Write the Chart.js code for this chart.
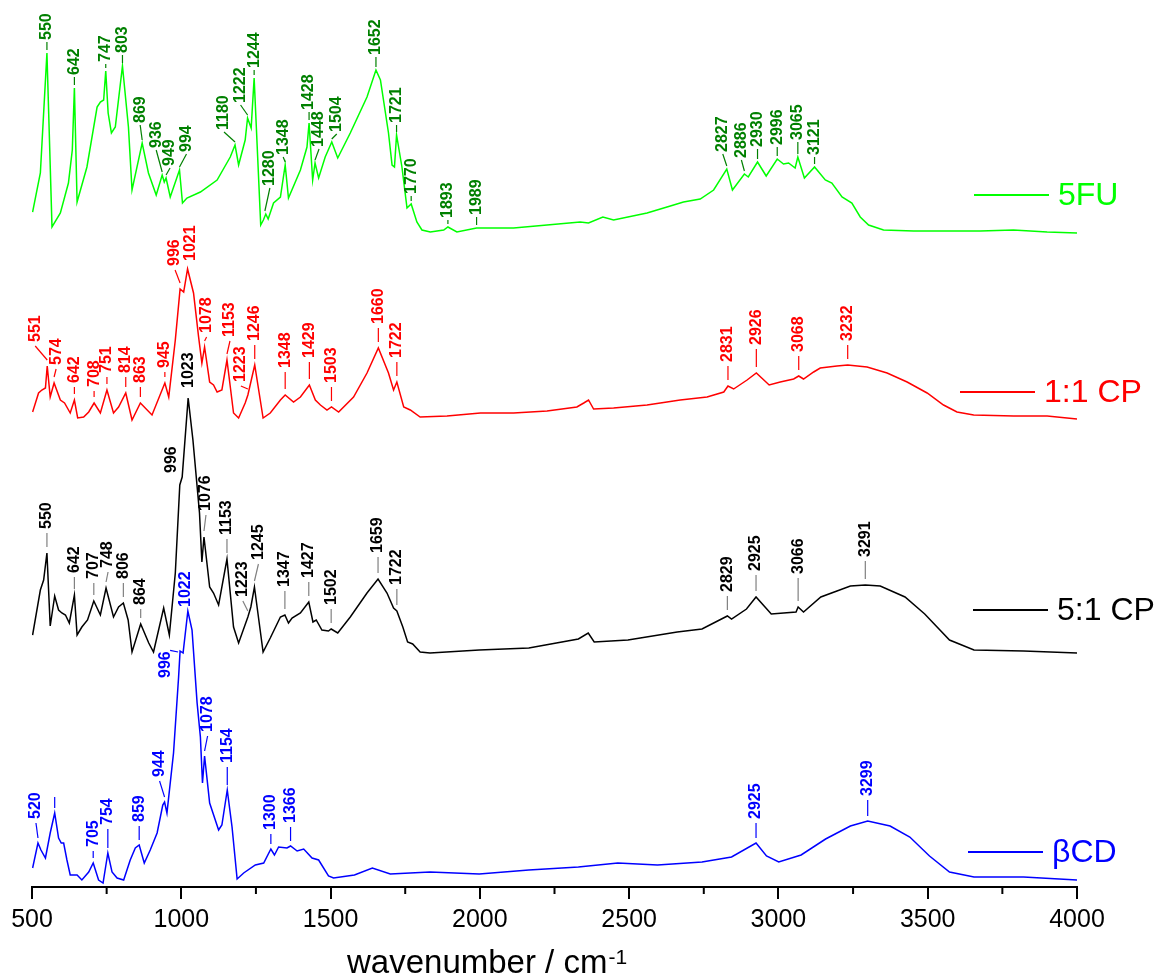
<!DOCTYPE html>
<html>
<head>
<meta charset="utf-8">
<title>Raman spectra</title>
<script src="https://cdn.jsdelivr.net/npm/chart.js@4.4.1/dist/chart.umd.min.js"></script>
<style>
  html, body { margin: 0; padding: 0; background: #fff; }
  #chart { display: block; }
</style>
</head>
<body>
<canvas id="chart" width="1158" height="978" style="width:1158px;height:978px"></canvas>
<script>
// wavenumber (cm-1) / intensity (a.u., already offset)
const wn5FU = [502, 528, 550, 567, 595, 622, 635, 642, 651, 684, 718, 729, 740, 747, 755, 766, 779, 803, 823, 835,
    869, 890, 916, 936, 943, 949, 963, 994, 1004, 1019, 1064, 1120, 1164, 1180, 1192, 1214, 1222, 1234, 1244, 1266,
    1275, 1283, 1291, 1309, 1332, 1348, 1359, 1399, 1421, 1428, 1440, 1448, 1460, 1482, 1504, 1524, 1566, 1622, 1652, 1667,
    1694, 1706, 1714, 1721, 1739, 1756, 1770, 1789, 1806, 1834, 1879, 1893, 1923, 1989, 2113, 2225, 2336, 2364, 2412, 2448,
    2560, 2638, 2682, 2738, 2783, 2827, 2846, 2886, 2899, 2930, 2959, 2996, 3017, 3034, 3056, 3065, 3087, 3121, 3157, 3179,
    3213, 3246, 3274, 3302, 3352, 3453, 3676, 3787, 3900, 4000];
const int5FU = [67.5, 71.4, 83.4, 66.0, 67.4, 70.4, 73.7, 79.9, 68.5, 72.0, 78.0, 78.5, 78.7, 81.6, 77.4, 75.4, 76.0, 82.1, 76.0, 69.7,
    74.4, 71.4, 69.2, 71.2, 70.5, 70.9, 69.0, 71.7, 68.4, 68.9, 69.5, 70.7, 73.0, 74.2, 72.2, 74.7, 76.9, 75.9, 80.9, 66.2,
    66.7, 67.3, 66.8, 68.4, 69.0, 72.2, 68.9, 71.7, 74.0, 76.4, 70.7, 72.4, 70.9, 73.0, 74.5, 72.9, 75.4, 79.0, 81.7, 80.7,
    75.4, 72.2, 72.0, 75.2, 72.0, 67.9, 68.3, 66.5, 65.7, 65.5, 65.7, 66.0, 65.5, 65.9, 65.9, 66.2, 66.5, 66.4, 67.0, 66.7,
    67.4, 68.1, 68.5, 68.8, 69.7, 71.8, 69.7, 71.3, 71.0, 72.5, 71.1, 72.8, 72.3, 72.4, 71.9, 73.0, 70.9, 72.0, 70.7, 70.4,
    69.0, 68.4, 67.0, 66.2, 65.7, 65.6, 65.6, 65.7, 65.5, 65.4];

const wnCP11 = [502, 522, 533, 545, 551, 561, 574, 595, 609, 628, 642, 653, 673, 690, 708, 729, 751, 773, 790, 814,
    835, 863, 902, 945, 958, 980, 996, 1008, 1021, 1041, 1058, 1069, 1078, 1095, 1108, 1120, 1136, 1153, 1175, 1192,
    1214, 1223, 1246, 1274, 1298, 1332, 1348, 1376, 1399, 1429, 1449, 1466, 1488, 1503, 1527, 1577, 1622, 1660, 1694, 1711,
    1722, 1745, 1767, 1800, 1890, 2002, 2113, 2225, 2325, 2348, 2364, 2381, 2448, 2560, 2671, 2761, 2817, 2831, 2850, 2895,
    2926, 2969, 3006, 3051, 3068, 3084, 3118, 3140, 3196, 3232, 3297, 3364, 3431, 3498, 3553, 3598, 3654, 3788, 3900, 4000];
const intCP11 = [47.5, 49.4, 49.7, 49.9, 52.1, 49.0, 50.4, 48.7, 48.4, 47.4, 48.7, 46.9, 47.0, 47.5, 48.4, 47.4, 49.7, 47.4, 48.0, 49.4,
    46.7, 48.4, 47.2, 50.4, 49.0, 54.7, 59.8, 59.5, 61.8, 59.4, 55.0, 52.4, 54.0, 50.5, 50.2, 49.5, 49.7, 52.7, 47.4, 46.9,
    48.4, 49.2, 52.2, 46.9, 47.4, 48.7, 49.2, 48.5, 49.0, 50.2, 48.7, 48.2, 47.7, 48.0, 47.5, 49.0, 51.4, 53.9, 51.4, 49.7,
    50.5, 48.0, 47.7, 47.0, 47.1, 47.4, 47.4, 47.6, 48.0, 48.4, 48.7, 47.8, 47.9, 48.2, 48.7, 49.0, 49.5, 50.1, 49.8, 50.7,
    51.4, 50.2, 50.5, 50.8, 51.1, 50.8, 51.5, 51.9, 52.1, 52.2, 52.0, 51.4, 50.5, 49.4, 48.2, 47.5, 47.2, 47.1, 47.1, 46.8];

const wnCP51 = [502, 528, 539, 550, 561, 576, 589, 600, 612, 625, 642, 651, 667, 686, 707, 729, 748, 773, 790, 806,
    822, 835, 864, 891, 907, 941, 960, 980, 995, 1003, 1023, 1039, 1061, 1069, 1076, 1095, 1108, 1125, 1153, 1175,
    1192, 1223, 1233, 1245, 1274, 1298, 1332, 1347, 1359, 1371, 1399, 1427, 1441, 1452, 1471, 1493, 1502, 1524, 1566, 1622,
    1659, 1689, 1711, 1722, 1742, 1758, 1775, 1800, 1833, 1998, 2164, 2330, 2363, 2383, 2496, 2661, 2744, 2829, 2843, 2893,
    2925, 2976, 3059, 3066, 3084, 3142, 3241, 3291, 3341, 3424, 3490, 3573, 3655, 3821, 4000];
const intCP51 = [25.2, 29.7, 30.7, 33.4, 26.1, 29.1, 27.7, 27.4, 27.2, 26.4, 29.2, 25.2, 26.0, 26.7, 28.6, 27.2, 29.9, 27.0, 28.0, 28.4,
    26.7, 23.5, 26.3, 24.4, 23.5, 27.9, 25.2, 31.4, 40.2, 41.0, 48.9, 44.7, 37.4, 32.5, 35.0, 30.0, 29.4, 28.2, 32.8, 26.0,
    24.4, 27.0, 28.0, 30.0, 23.5, 24.9, 27.0, 27.2, 26.4, 26.9, 27.4, 28.5, 26.5, 26.7, 25.7, 25.6, 25.8, 25.4, 27.0, 29.4,
    30.8, 29.4, 27.9, 27.6, 26.0, 24.5, 24.3, 23.5, 23.4, 23.7, 23.9, 24.8, 25.4, 24.5, 24.7, 25.5, 25.8, 27.1, 26.8, 27.8,
    29.0, 27.3, 27.5, 28.0, 27.5, 29.0, 30.1, 30.2, 30.1, 29.0, 27.3, 24.7, 23.7, 23.6, 23.4];

const wnBCD = [502, 520, 530, 545, 561, 576, 589, 598, 606, 617, 628, 651, 667, 690, 705, 723, 738, 754, 768, 785,
    807, 829, 846, 859, 876, 896, 919, 938, 944, 952, 974, 991, 996, 1006, 1022, 1036, 1053, 1064, 1071, 1078,
    1095, 1125, 1136, 1154, 1170, 1187, 1209, 1248, 1276, 1300, 1312, 1326, 1354, 1366, 1388, 1410, 1438, 1460, 1493, 1510,
    1580, 1640, 1700, 1833, 1998, 2164, 2330, 2462, 2595, 2744, 2843, 2925, 2960, 3001, 3076, 3158, 3241, 3299, 3374, 3440,
    3506, 3573, 3655, 3821, 4000];
const intBCD = [1.9, 4.4, 3.7, 2.9, 5.4, 7.4, 4.9, 4.4, 4.4, 2.7, 1.2, 1.2, 0.7, 1.5, 2.4, 0.7, 0.4, 3.4, 1.5, 0.9,
    0.7, 2.7, 3.9, 4.2, 2.4, 3.7, 5.4, 8.2, 8.5, 7.4, 13.4, 21.0, 23.6, 23.4, 27.6, 25.7, 18.4, 15.0, 10.4, 13.1,
    8.4, 5.7, 6.2, 9.7, 6.0, 0.8, 1.4, 2.2, 2.4, 3.8, 3.2, 4.0, 3.9, 4.1, 3.6, 3.8, 2.9, 2.7, 1.1, 0.9,
    1.2, 1.9, 1.3, 1.5, 1.3, 1.7, 2.0, 2.4, 2.2, 2.5, 3.0, 4.4, 3.1, 2.5, 3.2, 4.8, 6.1, 6.6, 6.1, 5.0,
    3.1, 1.5, 1.0, 1.0, 0.7];

// labelled peak positions
const peaks5FU = [550, 642, 747, 803, 869, 936, 949, 994, 1180, 1222, 1244, 1280, 1348, 1428, 1448, 1504, 1652, 1721, 1770,
    1893, 1989, 2827, 2886, 2930, 2996, 3065, 3121];
const peaksCP11 = [551, 574, 642, 708, 751, 814, 863, 945, 996, 1021, 1078, 1153, 1223, 1246, 1348, 1429, 1503, 1660, 1722,
    2831, 2926, 3068, 3232];
const peaksCP51 = [550, 642, 707, 748, 806, 864, 996, 1023, 1076, 1153, 1223, 1245, 1347, 1427, 1502, 1659, 1722,
    2829, 2925, 3066, 3291];
const peaksBCD = [520, 576, 705, 754, 859, 944, 996, 1022, 1078, 1154, 1300, 1366, 2925, 3299];

const xTicks = [500, 1000, 1500, 2000, 2500, 3000, 3500, 4000];
const xTitle = 'wavenumber / cm';
const xTitleSup = '-1';

const FONT = '"Liberation Sans", Arial, Helvetica, sans-serif';

const series = [
    { name: '5FU', wn: wn5FU, int: int5FU, peaks: peaks5FU,
      style: { color: '#00ff00', text: '#008000', leader: '#008000', gap: 3, topGap: 2, lift: 13 },
      legend: { x: 974, y: 195 } },
    { name: '1:1 CP', wn: wnCP11, int: intCP11, peaks: peaksCP11,
      style: { color: '#ff0000', text: '#ff0000', leader: '#ff0000', gap: 6, topGap: 4, lift: 24 },
      legend: { x: 960, y: 392 } },
    { name: '5:1 CP', wn: wnCP51, int: intCP51, peaks: peaksCP51,
      style: { color: '#000000', text: '#000000', leader: '#808080', gap: 6, topGap: 4, lift: 24 },
      legend: { x: 973, y: 610 } },
    { name: 'βCD', wn: wnBCD, int: intBCD, peaks: peaksBCD,
      style: { color: '#0000ff', text: '#0000ff', leader: '#0000ff', gap: 5, topGap: 4, lift: 24 },
      legend: { x: 968, y: 852 } }
];

// label placement tweaks for crowded peaks (px offsets)
const labelTweaks = {
    '5FU:747': { lift: 9 }, '5FU:869': { dx: -2, lift: 20 }, '5FU:936': { dx: -6, lift: 27 },
    '5FU:949': { dx: 4, lift: 12 }, '5FU:994': { dx: 7, lift: 18 }, '5FU:1180': { dx: -11, lift: 15 },
    '5FU:1222': { dx: -7, lift: 15 }, '5FU:1244': { lift: 10 }, '5FU:1280': { dx: 5, lift: 28 },
    '5FU:1348': { dx: -2, lift: 10 }, '5FU:1448': { dx: 4, lift: 16 }, '5FU:1504': { dx: 5, lift: 10 },
    '5FU:1652': { lift: 15 }, '5FU:1721': { lift: 12 }, '5FU:1770': { lift: 10 }, '5FU:1893': { lift: 9 },
    '5FU:2827': { dx: -4, lift: 17 }, '5FU:2886': { dx: -3, lift: 16 }, '5FU:2930': { lift: 15 },
    '5FU:2996': { lift: 14 }, '5FU:3065': { lift: 17 }, '5FU:3121': { lift: 12 },

    '1:1 CP:551': { dx: -12 }, '1:1 CP:574': { dx: 2, lift: 18 }, '1:1 CP:642': { lift: 17 },
    '1:1 CP:708': { lift: 16 }, '1:1 CP:751': { lift: 17 }, '1:1 CP:814': { lift: 20 }, '1:1 CP:863': { lift: 20 },
    '1:1 CP:945': { lift: 15 }, '1:1 CP:996': { dx: -5, lift: 23 }, '1:1 CP:1021': { dx: 3, lift: 8 },
    '1:1 CP:1078': { dx: 2, lift: 14 }, '1:1 CP:1153': { dx: 3, lift: 23 }, '1:1 CP:1223': { dx: -7, lift: 13 },
    '1:1 CP:1348': { lift: 27 }, '1:1 CP:1429': { lift: 27 }, '1:1 CP:2926': { lift: 28 },

    '5:1 CP:642': { lift: 22 }, '5:1 CP:707': { lift: 22 }, '5:1 CP:748': { dx: 2, lift: 20 },
    '5:1 CP:864': { lift: 19 }, '5:1 CP:996': { dx: -8, lift: 12 }, '5:1 CP:1023': { lift: 10 },
    '5:1 CP:1076': { dx: 2, lift: 26 }, '5:1 CP:1223': { dx: -5, lift: 20 }, '5:1 CP:1245': { dx: 4, lift: 27 },
    '5:1 CP:1347': { lift: 28 }, '5:1 CP:1659': { lift: 26 }, '5:1 CP:1722': { lift: 26 },
    '5:1 CP:2925': { lift: 26 }, '5:1 CP:3066': { lift: 33 }, '5:1 CP:3291': { lift: 28 },

    'βCD:520': { dx: -2 }, 'βCD:576': { lift: 20, noText: true }, 'βCD:705': { lift: 16 }, 'βCD:754': { lift: 28 },
    'βCD:859': { lift: 23 }, 'βCD:944': { dx: -5, lift: 25 }, 'βCD:996': { dx: -14, lift: -27 },
    'βCD:1022': { dx: -2, lift: 4 }, 'βCD:1078': { dx: 3 }, 'βCD:1154': { lift: 27 }, 'βCD:1300': { lift: 19 },
    'βCD:1366': { lift: 23 }, 'βCD:3299': { lift: 25 }
};

function peakValue(xs, ys, wn) {
    let best = null;
    for (let i = 0; i < xs.length; i++) {
        if (Math.abs(xs[i] - wn) <= 6 && (best === null || ys[i] > best)) best = ys[i];
    }
    if (best !== null) return best;
    for (let i = 1; i < xs.length; i++) {
        if (xs[i] >= wn) {
            const t = (wn - xs[i - 1]) / (xs[i] - xs[i - 1]);
            return ys[i - 1] + t * (ys[i] - ys[i - 1]);
        }
    }
    return ys[ys.length - 1];
}

function line(ctx, x0, y0, x1, y1) {
    ctx.beginPath();
    ctx.moveTo(x0, y0);
    ctx.lineTo(x1, y1);
    ctx.stroke();
}

const peakLabelPlugin = {
    id: 'peakLabels',
    afterDatasetsDraw(chart) {
        const { ctx, scales: { x, y } } = chart;
        ctx.save();
        ctx.font = `bold 16px ${FONT}`;
        ctx.lineWidth = 1.2;
        series.forEach(s => {
            s.peaks.forEach(wn => {
                const t = labelTweaks[`${s.name}:${wn}`] || {};
                const px = x.getPixelForValue(wn);
                const py = y.getPixelForValue(peakValue(s.wn, s.int, wn));
                const lift = t.lift !== undefined ? t.lift : s.style.lift;
                const tx = px + (t.dx || 0);
                const tb = py - lift;
                const text = t.noText ? '' : String(wn);
                const tw = ctx.measureText(text).width;

                ctx.strokeStyle = s.style.leader;
                if (lift > 0) {
                    const y0 = py - s.style.gap;
                    const y1 = tb + s.style.topGap;
                    if (y0 - y1 > 2) line(ctx, px, y0, tx, y1);
                } else {
                    line(ctx, tx + 4, tb - tw - 1, px - 2, py + 1);
                }

                if (!text) return;
                ctx.save();
                ctx.translate(tx, tb);
                ctx.rotate(-Math.PI / 2);
                ctx.fillStyle = s.style.text;
                ctx.textAlign = 'left';
                ctx.textBaseline = 'middle';
                ctx.fillText(text, 0, 0);
                ctx.restore();
            });
        });
        ctx.restore();
    },
    afterDraw(chart) {
        const { ctx, scales: { x } } = chart;
        ctx.save();

        // minor ticks
        ctx.strokeStyle = '#000';
        ctx.lineWidth = 2;
        const axisY = chart.chartArea.bottom;
        for (let i = 0; i < xTicks.length - 1; i++) {
            const v = (xTicks[i] + xTicks[i + 1]) / 2;
            const p = x.getPixelForValue(v);
            line(ctx, p, axisY, p, axisY + 7);
        }

        // axis title with superscript
        ctx.fillStyle = '#000';
        ctx.textBaseline = 'alphabetic';
        ctx.textAlign = 'left';
        ctx.font = `33px ${FONT}`;
        const tx = 347;
        ctx.fillText(xTitle, tx, 973);
        const w = ctx.measureText(xTitle).width;
        ctx.font = `21px ${FONT}`;
        ctx.fillText(xTitleSup, tx + w + 1, 964);

        // legend entries placed beside each trace
        series.forEach(s => {
            ctx.strokeStyle = s.style.color;
            ctx.lineWidth = 2;
            line(ctx, s.legend.x, s.legend.y, s.legend.x + 75, s.legend.y);
            ctx.fillStyle = s.style.color;
            ctx.font = `32px ${FONT}`;
            ctx.textBaseline = 'middle';
            ctx.fillText(s.name, s.legend.x + 84, s.legend.y + 1);
        });
        ctx.restore();
    }
};

new Chart(document.getElementById('chart'), {
    type: 'scatter',
    data: {
        datasets: series.map(s => ({
            label: s.name,
            data: s.wn.map((w, i) => ({ x: w, y: s.int[i] })),
            showLine: true,
            borderColor: s.style.color,
            backgroundColor: s.style.color,
            borderWidth: 1.5,
            pointRadius: 0,
            tension: 0,
            fill: false
        }))
    },
    options: {
        responsive: false,
        animation: false,
        devicePixelRatio: 1,
        layout: { padding: { left: 32, right: 81, top: 0, bottom: 0 } },
        plugins: { legend: { display: false }, tooltip: { enabled: false } },
        scales: {
            x: {
                type: 'linear',
                min: 500,
                max: 4000,
                afterBuildTicks: scale => {
                    scale.ticks = xTicks.map(v => ({ value: v }));
                },
                afterFit: scale => { scale.height = 91; },
                border: { display: true, color: '#000', width: 2 },
                grid: { display: true, drawOnChartArea: false, drawTicks: true, tickLength: 12, tickColor: '#000', lineWidth: 2 },
                ticks: {
                    autoSkip: false,
                    maxRotation: 0,
                    padding: 6,
                    color: '#000',
                    font: { family: FONT, size: 25 },
                    callback: v => String(v)
                }
            },
            y: {
                type: 'linear',
                min: 0,
                max: 88.7,
                display: false
            }
        }
    },
    plugins: [peakLabelPlugin]
});
</script>
</body>
</html>
